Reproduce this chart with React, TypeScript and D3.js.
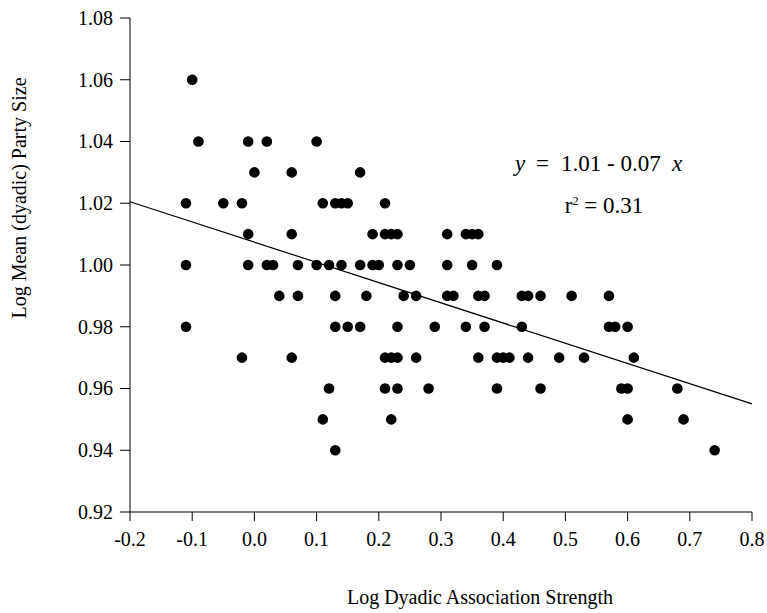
import React from "react";
import * as d3 from "d3";

// Data: x = Log Dyadic Association Strength, y = Log Mean (dyadic) Party Size
const xValues: number[] = [
  -0.10,
  -0.09, -0.01, 0.02, 0.10,
  0.00, 0.06, 0.17,
  -0.11, -0.05, -0.02, 0.11, 0.13, 0.14, 0.15, 0.21,
  -0.01, 0.06, 0.19, 0.21, 0.22, 0.23, 0.31, 0.34, 0.35, 0.36,
  -0.11, -0.01, 0.02, 0.03, 0.07, 0.10, 0.12, 0.14, 0.17, 0.19, 0.20, 0.23, 0.25, 0.31, 0.35, 0.39,
  0.04, 0.07, 0.13, 0.18, 0.24, 0.26, 0.31, 0.32, 0.36, 0.37, 0.43, 0.44, 0.46, 0.51, 0.57,
  -0.11, 0.13, 0.15, 0.17, 0.23, 0.29, 0.34, 0.37, 0.43, 0.57, 0.58, 0.60,
  -0.02, 0.06, 0.21, 0.22, 0.23, 0.26, 0.36, 0.39, 0.40, 0.41, 0.44, 0.49, 0.53, 0.61,
  0.12, 0.21, 0.23, 0.28, 0.39, 0.46, 0.59, 0.60, 0.68,
  0.11, 0.22, 0.60, 0.69,
  0.13, 0.74,
];
const yValues: number[] = [
  1.06,
  1.04, 1.04, 1.04, 1.04,
  1.03, 1.03, 1.03,
  1.02, 1.02, 1.02, 1.02, 1.02, 1.02, 1.02, 1.02,
  1.01, 1.01, 1.01, 1.01, 1.01, 1.01, 1.01, 1.01, 1.01, 1.01,
  1.0, 1.0, 1.0, 1.0, 1.0, 1.0, 1.0, 1.0, 1.0, 1.0, 1.0, 1.0, 1.0, 1.0, 1.0, 1.0,
  0.99, 0.99, 0.99, 0.99, 0.99, 0.99, 0.99, 0.99, 0.99, 0.99, 0.99, 0.99, 0.99, 0.99, 0.99,
  0.98, 0.98, 0.98, 0.98, 0.98, 0.98, 0.98, 0.98, 0.98, 0.98, 0.98, 0.98,
  0.97, 0.97, 0.97, 0.97, 0.97, 0.97, 0.97, 0.97, 0.97, 0.97, 0.97, 0.97, 0.97, 0.97,
  0.96, 0.96, 0.96, 0.96, 0.96, 0.96, 0.96, 0.96, 0.96,
  0.95, 0.95, 0.95, 0.95,
  0.94, 0.94,
];

const xTicks: number[] = [-0.2, -0.1, 0.0, 0.1, 0.2, 0.3, 0.4, 0.5, 0.6, 0.7, 0.8];
const yTicks: number[] = [0.92, 0.94, 0.96, 0.98, 1.0, 1.02, 1.04, 1.06, 1.08];

const fitIntercept = 1.0074;
const fitSlope = -0.0655;

const xTitle = "Log Dyadic Association Strength";
const yTitle = "Log Mean (dyadic) Party Size";

const W = 767;
const H = 613;
const FONT = "'Liberation Serif', 'Times New Roman', Times, serif";
const FS = 20;
const EQ_FS = 23;

const fmtX = (t: number) => d3.format(".1f")(t).replace("\u2212", "-");
const fmtY = (t: number) => d3.format(".2f")(t).replace("\u2212", "-");

export default function App() {
  const x = d3.scaleLinear().domain([-0.2, 0.8]).range([130, 752]);
  const y = d3.scaleLinear().domain([0.92, 1.08]).range([512, 18]);
  const fitLine = d3
    .line<number>()
    .x((d) => x(d))
    .y((d) => y(fitIntercept + fitSlope * d));
  const pts = xValues.map((v, i) => [v, yValues[i]]);

  return (
    <svg
      width={W}
      height={H}
      style={{ position: "absolute", left: 0, top: 0, background: "#fff", fontFamily: FONT }}
    >
      {/* axes */}
      <line x1={x(-0.2)} x2={x(-0.2)} y1={y(1.08)} y2={y(0.92)} stroke="#000" strokeWidth={1} />
      <line x1={x(-0.2)} x2={x(0.8)} y1={y(0.92)} y2={y(0.92)} stroke="#000" strokeWidth={1} />
      {yTicks.map((t) => (
        <g key={"y" + t}>
          <line x1={x(-0.2) - 10} x2={x(-0.2)} y1={y(t)} y2={y(t)} stroke="#000" strokeWidth={1} />
          <text x={x(-0.2) - 17} y={y(t)} dy="0.34em" textAnchor="end" fontSize={FS}>
            {fmtY(t)}
          </text>
        </g>
      ))}
      {xTicks.map((t) => (
        <g key={"x" + t}>
          <line x1={x(t)} x2={x(t)} y1={y(0.92)} y2={y(0.92) + 9} stroke="#000" strokeWidth={1} />
          <text x={x(t)} y={546} textAnchor="middle" fontSize={FS}>
            {fmtX(t)}
          </text>
        </g>
      ))}
      {/* fit line */}
      <path d={fitLine([-0.2, 0.8]) || ""} fill="none" stroke="#000" strokeWidth={1.2} />
      {/* points */}
      {pts.map((p, i) => (
        <circle key={i} cx={x(p[0])} cy={y(p[1])} r={5.3} fill="#000" />
      ))}
      {/* equation */}
      <text x={515} y={171} fontSize={EQ_FS} fontStyle="italic">y</text>
      <text x={536} y={171} fontSize={EQ_FS}>=</text>
      <text x={561} y={171} fontSize={EQ_FS}>1.01 - 0.07</text>
      <text x={672} y={171} fontSize={EQ_FS} fontStyle="italic">x</text>
      <text x={604} y={213} fontSize={EQ_FS} textAnchor="middle">
        r<tspan fontSize={12} dy={-8}>2</tspan>
        <tspan dy={8}> = 0.31</tspan>
      </text>
      {/* titles */}
      <text x={480} y={604} textAnchor="middle" fontSize={FS}>
        {xTitle}
      </text>
      <text transform={`translate(26,198) rotate(-90)`} textAnchor="middle" fontSize={FS}>
        {yTitle}
      </text>
    </svg>
  );
}
